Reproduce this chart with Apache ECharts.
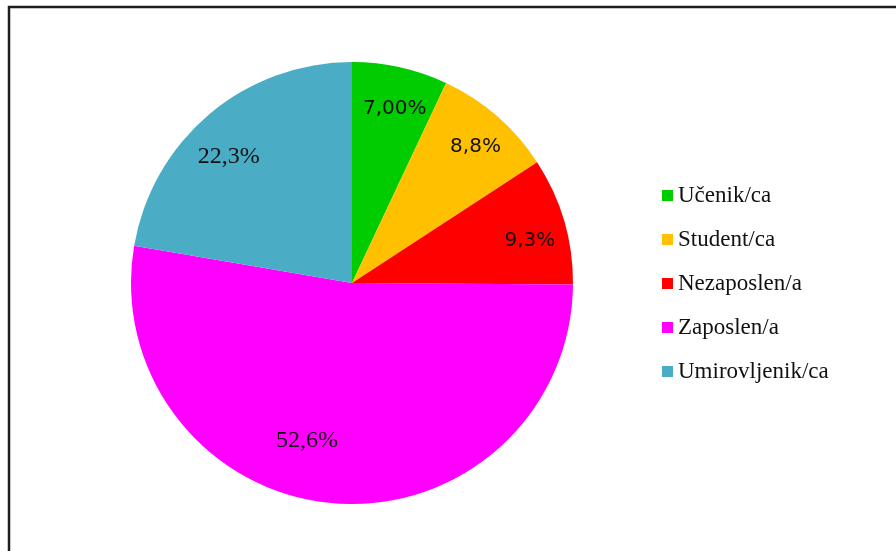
<!DOCTYPE html>
<html>
<head>
<meta charset="utf-8">
<script src="https://cdn.jsdelivr.net/npm/echarts@6/dist/echarts.min.js"></script>
<style>
  html, body { margin: 0; padding: 0; background: #fff; }
  #chart { width: 896px; height: 551px; }
</style>
</head>
<body>
<div id="chart"></div>
<script>
// Shares of respondents by employment status (%)
const categories = ['Učenik/ca', 'Student/ca', 'Nezaposlen/a', 'Zaposlen/a', 'Umirovljenik/ca'];
const shares = [7.00, 8.8, 9.3, 52.6, 22.3];
const shareDecimals = [2, 1, 1, 1, 1];

// Styling, kept apart from the values
const sliceColors = ['#00CC00', '#FFC000', '#FF0000', '#FF00FF', '#4BACC6'];
const labelFonts = ['DejaVu Sans', 'DejaVu Sans', 'DejaVu Sans', 'Liberation Serif', 'Liberation Serif'];
const labelSizes = [20, 20, 20, 24, 24];
const labelNudge = [[18, -63], [49, -51], [69, -10], [-35, 45], [-50, -40]];

const fmt = (v, d) => v.toFixed(d).replace('.', ',') + '%';

const chart = echarts.init(document.getElementById('chart'), null, { renderer: 'canvas' });

chart.setOption({
  animation: false,
  backgroundColor: '#ffffff',
  color: sliceColors,
  graphic: [{
    type: 'polyline',
    shape: { points: [[9, 551], [9, 7], [896, 7]] },
    style: { stroke: '#1e1e1e', lineWidth: 2.5, fill: null }
  }],
  legend: {
    orient: 'vertical',
    left: 662,
    top: 184,
    padding: 0,
    itemWidth: 11,
    itemHeight: 11,
    itemGap: 21,
    icon: 'rect',
    data: categories,
    textStyle: {
      fontFamily: 'Liberation Serif',
      fontSize: 23,
      lineHeight: 23,
      color: '#111'
    }
  },
  series: [{
    type: 'pie',
    center: [352, 283],
    radius: [0, 221],
    startAngle: 90,
    clockwise: true,
    avoidLabelOverlap: false,
    itemStyle: { borderWidth: 0 },
    emphasis: { disabled: true },
    label: {
      show: true,
      position: 'inside',
      color: '#111'
    },
    labelLine: { show: false },
    labelLayout: function (p) {
      const n = labelNudge[p.dataIndex];
      return { dx: n[0], dy: n[1] };
    },
    data: categories.map((name, i) => ({
      name: name,
      value: shares[i],
      label: {
        formatter: fmt(shares[i], shareDecimals[i]),
        fontFamily: labelFonts[i],
        fontSize: labelSizes[i]
      }
    }))
  }]
});
</script>
</body>
</html>
